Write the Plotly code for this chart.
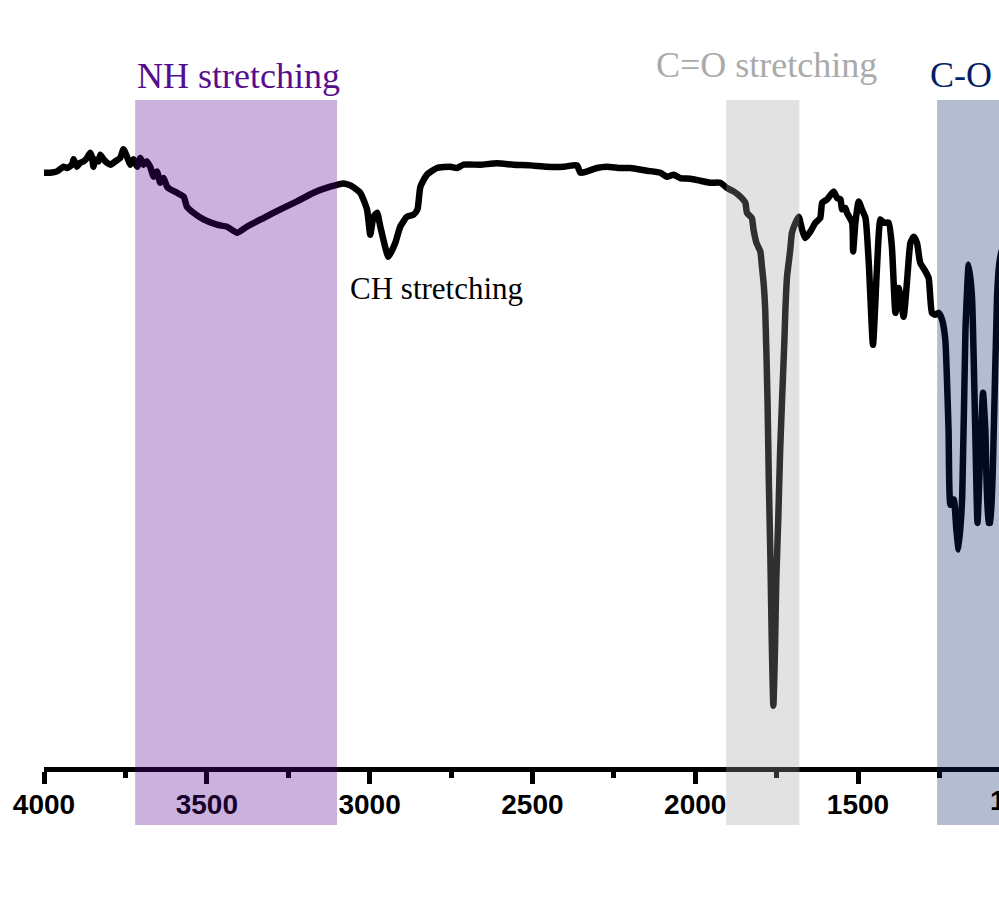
import plotly.graph_objects as go

# FT-IR spectrum: wavenumber (cm-1) and transmittance (%)
wavenumber = [
    4000, 3981, 3960, 3940, 3929, 3914, 3909, 3899, 3889, 3878,
    3868, 3858, 3853, 3848, 3842, 3832, 3827, 3817, 3807, 3796,
    3781, 3766, 3756, 3745, 3735, 3725, 3714, 3704, 3694, 3684,
    3674, 3663, 3653, 3643, 3633, 3622, 3612, 3592, 3571, 3561,
    3541, 3510, 3469, 3438, 3407, 3377, 3326, 3274, 3223, 3172,
    3121, 3080, 3059, 3029, 3008, 2998, 2988, 2977, 2967, 2942,
    2921, 2906, 2885, 2865, 2853, 2844, 2824, 2793, 2752, 2732,
    2711, 2660, 2609, 2558, 2506, 2455, 2404, 2363, 2353, 2332,
    2302, 2271, 2230, 2199, 2148, 2107, 2087, 2066, 2046, 2015,
    1984, 1954, 1923, 1902, 1882, 1861, 1846, 1841, 1826, 1821,
    1812, 1800, 1795, 1790, 1785, 1778, 1774, 1769, 1765, 1760,
    1755, 1751, 1745, 1739, 1732, 1726, 1723, 1718, 1708, 1703,
    1692, 1682, 1672, 1662, 1646, 1631, 1616, 1610, 1595, 1575,
    1564, 1554, 1549, 1539, 1534, 1518, 1515, 1508, 1498, 1488,
    1477, 1467, 1454, 1442, 1431, 1421, 1406, 1396, 1385, 1375,
    1360, 1349, 1339, 1329, 1319, 1309, 1293, 1283, 1273, 1263,
    1252, 1242, 1232, 1222, 1216, 1206, 1198, 1191, 1180, 1170,
    1160, 1150, 1140, 1133, 1124, 1116, 1109, 1099, 1094, 1083,
    1073, 1066, 1057, 1045,
]
transmittance = [
    89.1, 89.1, 89.3, 90.0, 89.8, 90.3, 91.1, 90.0, 90.6, 90.8,
    91.3, 92.1, 91.5, 90.0, 91.1, 90.8, 91.8, 91.1, 90.6, 90.3,
    90.8, 91.3, 92.6, 91.5, 90.3, 91.1, 90.0, 91.3, 90.3, 90.8,
    90.0, 88.5, 89.3, 87.6, 88.3, 87.0, 86.6, 86.1, 85.5, 84.0,
    83.1, 82.1, 81.3, 81.0, 80.1, 81.0, 82.3, 83.6, 84.8, 86.1,
    87.0, 87.5, 87.2, 86.1, 83.6, 79.8, 82.5, 83.1, 81.0, 76.5,
    78.6, 81.0, 82.5, 82.8, 83.6, 87.0, 88.8, 89.8, 90.0, 89.8,
    90.3, 90.3, 90.5, 90.3, 90.2, 90.0, 90.0, 90.2, 89.1, 89.3,
    89.8, 90.0, 89.8, 89.8, 89.4, 89.1, 88.5, 88.8, 88.3, 88.2,
    87.9, 87.6, 87.6, 86.8, 86.3, 85.5, 84.6, 83.1, 82.3, 80.6,
    78.6, 77.3, 75.0, 72.6, 68.6, 55.1, 43.1, 31.1, 19.1, 9.2,
    17.6, 28.1, 37.1, 47.6, 56.6, 64.1, 68.6, 73.5, 77.6, 80.1,
    81.6, 82.5, 80.6, 79.3, 80.3, 81.6, 82.3, 84.6, 85.1, 86.3,
    85.3, 85.1, 83.6, 83.8, 83.1, 81.6, 77.3, 81.6, 84.8, 83.6,
    82.3, 75.6, 63.3, 74.6, 82.1, 81.6, 81.6, 78.0, 68.1, 71.8,
    67.5, 73.1, 78.6, 79.5, 78.6, 75.6, 74.3, 73.3, 68.1, 67.8,
    68.1, 67.1, 64.1, 50.6, 39.3, 40.1, 35.6, 32.6, 40.5, 65.6,
    75.3, 70.5, 50.6, 36.6, 48.0, 56.1, 50.6, 36.6, 36.6, 50.6,
    70.5, 75.5, 77.6, 78.0,
]

# Highlighted absorption bands (cm-1)
band_names = ["NH stretching", "C=O stretching", "C-O"]
band_start = [3720, 1905, 1257]
band_end = [3100, 1680, 900]
band_fill = ["rgb(80,0,140)", "rgb(160,160,160)", "rgb(5,35,100)"]
band_text_color = ["rgb(85,15,140)", "rgb(170,170,170)", "rgb(5,30,100)"]

# Axis settings
x_start, x_end = 4000, 1067
tick_values = [4000, 3500, 3000, 2500, 2000, 1500]
tick_text = [str(v) for v in tick_values]
clipped_tick = 1000

fig = go.Figure()
fig.add_trace(go.Scatter(
    x=wavenumber, y=transmittance, mode="lines",
    line=dict(color="black", width=6.5, shape="spline", smoothing=0.5),
    hoverinfo="skip", showlegend=False,
))

for x0, x1, col in zip(band_start, band_end, band_fill):
    fig.add_shape(type="rect", xref="x", yref="paper",
                  x0=x0, x1=x1, y0=-0.087, y1=1.0,
                  fillcolor=col, opacity=0.3, line=dict(width=0),
                  layer="above")

serif = "Liberation Serif, Times New Roman, serif"
# Band labels
fig.add_annotation(x=band_start[0], y=1.036, xref="x", yref="paper",
                   text=band_names[0], showarrow=False,
                   xanchor="left", yanchor="middle",
                   font=dict(family=serif, size=36, color=band_text_color[0]))
fig.add_annotation(x=(band_start[1] + band_end[1]) / 2, y=1.052,
                   xref="x", yref="paper", xshift=4,
                   text=band_names[1], showarrow=False,
                   xanchor="center", yanchor="middle",
                   font=dict(family=serif, size=36, color=band_text_color[1]))
fig.add_annotation(x=1284, y=1.037, xref="x", yref="paper",
                   text=band_names[2], showarrow=False,
                   xanchor="left", yanchor="middle",
                   font=dict(family=serif, size=36, color=band_text_color[2]))
fig.add_annotation(x=3065, y=0.717, xref="x", yref="paper",
                   text="CH stretching", showarrow=False,
                   xanchor="left", yanchor="middle",
                   font=dict(family=serif, size=31, color="black"))

tick_font = dict(family="Liberation Sans, Arial, sans-serif", size=28,
                 color="black", weight="bold")

# Tick label at 1000 cm-1 lies just past the plotted range
fig.add_annotation(x=(x_start - clipped_tick) / (x_start - x_end), y=-0.05,
                   xref="paper", yref="paper", text=str(clipped_tick),
                   showarrow=False, xanchor="center", yanchor="middle",
                   font=tick_font)

fig.update_xaxes(
    range=[x_start, x_end], showgrid=False, zeroline=False,
    showline=True, linewidth=5, linecolor="black",
    tickmode="array", tickvals=tick_values, ticktext=tick_text,
    ticks="outside", ticklen=12, tickwidth=5, tickcolor="black",
    tickfont=tick_font, ticklabelstandoff=-4,
    minor=dict(tickmode="linear", tick0=0, dtick=250, ticks="outside",
               ticklen=6, tickwidth=5, tickcolor="black"),
)
fig.update_yaxes(range=[0, 100], visible=False, fixedrange=True)

fig.update_layout(
    width=999, height=910,
    margin=dict(l=44, r=0, t=100, b=143),
    plot_bgcolor="white", paper_bgcolor="white",
)

fig.write_html("out.html")
